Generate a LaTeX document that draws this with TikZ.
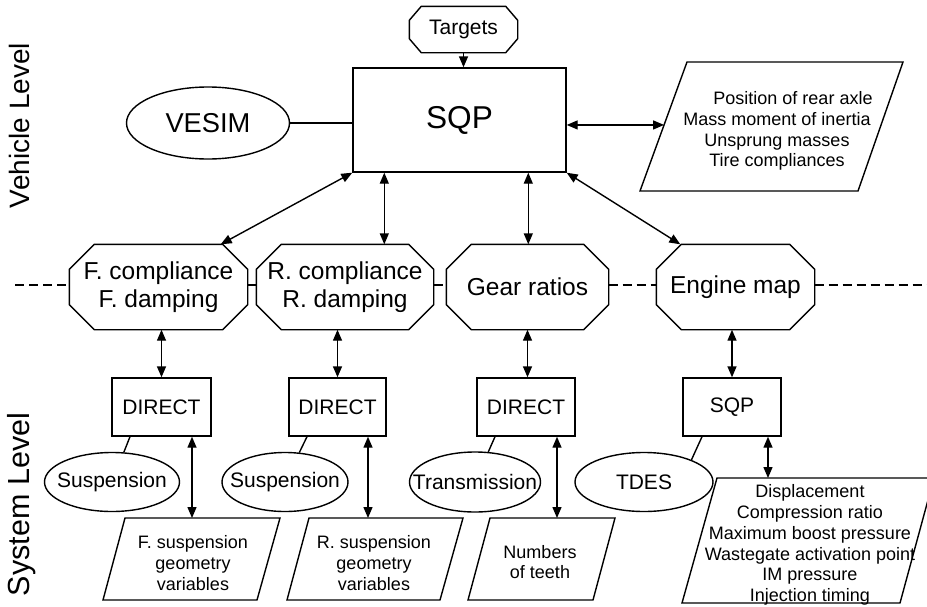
\documentclass[tikz,border=0pt]{standalone}
\usepackage{fontspec}
\setmainfont{Liberation Sans}
\usetikzlibrary{arrows.meta,shapes.geometric,calc}
\newcommand\octo[3]{%
  \draw ([xshift=#2]#1.north west) -- ([xshift=-#2]#1.north east) -- ([yshift=-#3]#1.north east)
   -- ([yshift=#3]#1.south east) -- ([xshift=-#2]#1.south east) -- ([xshift=#2]#1.south west)
   -- ([yshift=#3]#1.south west) -- ([yshift=-#3]#1.north west) -- cycle;}
\begin{document}
\begin{tikzpicture}[x=1pt,y=-1pt,line width=1.4pt,
  >={Triangle[length=11pt,width=9pt]},
  box/.style={draw, rectangle, inner sep=0pt},
  ell/.style={draw, ellipse, inner xsep=-25pt, inner ysep=-15pt},
  octn/.style={inner sep=0pt, align=center},
  ftxl/.style={font=\fontsize{31.6}{36}\selectfont},
  ftl/.style={font=\fontsize{27.3}{32}\selectfont},
  fto/.style={font=\fontsize{24.5}{28}\selectfont},
  ftm/.style={font=\fontsize{21}{24}\selectfont},
  fts/.style={font=\fontsize{18}{20.7}\selectfont},
  sep/.style={line width=1.1pt, dash pattern=on 9pt off 5pt}]
\useasboundingbox (0,0) rectangle (927,606);

% level labels
\node[rotate=90, anchor=base, font=\fontsize{28}{32}\selectfont] (vl) at (30,125.5) {Vehicle Level};
\node[rotate=90, anchor=base, font=\fontsize{30.5}{34}\selectfont] (sl) at (30,504.5) {System Level};

% vehicle level
\node[box, ftxl, minimum width=213pt, minimum height=104pt] (sqp) at (459.5,120) {SQP};
\node[octn, ftm, minimum width=107pt, minimum height=45pt] (tgt) at (463.5,29.5) {Targets};
\octo{tgt}{12pt}{14pt}
\node[ell, ftl, minimum width=163pt, minimum height=72pt] (vesim) at (208,123) {VESIM};

\coordinate (pv1) at (687,62);
\coordinate (pv2) at (903,62);
\coordinate (pv3) at (858,191);
\coordinate (pv4) at (640,191);
\draw (pv1) -- (pv2) -- (pv3) -- (pv4) -- cycle;
\node[fts, align=center] (pvt) at (777,131) {\hspace*{32pt}Position of rear axle\\Mass moment of inertia\\Unsprung masses\\Tire compliances};
\coordinate (pvL) at ($(pv1)!0.488!(pv4)$);

% octagons
\node[octn, fto, minimum width=177pt, minimum height=84pt] (foct) at (158.5,287) {F. compliance\\F. damping};
\node[octn, fto, minimum width=176pt, minimum height=84pt] (roct) at (345,287) {R. compliance\\R. damping};
\node[octn, fto, minimum width=161pt, minimum height=84pt] (goct) at (527.5,287) {Gear ratios};
\node[octn, fto, minimum width=157pt, minimum height=84pt] (eoct) at (735.5,287) {Engine map};
\octo{foct}{25pt}{25pt}
\octo{roct}{25pt}{25pt}
\octo{goct}{25pt}{25pt}
\octo{eoct}{25pt}{25pt}

% separator
\coordinate (dl) at (15,285);
\coordinate (dr) at (927,285);
\draw[sep] (dl) -- (dl -| foct.west);
\draw[sep] (foct.east |- dl) -- (roct.west |- dl);
\draw[sep] (roct.east |- dl) -- (goct.west |- dl);
\draw[sep] (goct.east |- dl) -- (eoct.west |- dl);
\draw[sep] (eoct.east |- dl) -- (dr);

% system level boxes
\node[box, ftm, minimum width=99pt, minimum height=58pt] (d1) at (161.5,407) {DIRECT};
\node[box, ftm, minimum width=97pt, minimum height=58pt] (d2) at (337.5,407) {DIRECT};
\node[box, ftm, minimum width=98pt, minimum height=58pt] (d3) at (526,407) {DIRECT};
\node[box, ftm, minimum width=98pt, minimum height=58pt] (d4) at (732,407) {SQP};

\node[ell, ftm, minimum width=135pt, minimum height=59pt] (e1) at (112,482) {Suspension};
\node[ell, ftm, minimum width=126pt, minimum height=59pt] (e2) at (285,482) {Suspension};
\node[ell, ftm, minimum width=131pt, minimum height=60pt] (e3) at (475,482) {Transmission};
\node[ell, ftm, minimum width=138pt, minimum height=59pt] (e4) at (644,482) {TDES};

% system level parallelograms
\coordinate (f1) at (125,518); \coordinate (f2) at (280,518);
\coordinate (f3) at (257,600); \coordinate (f4) at (103,600);
\draw (f1) -- (f2) -- (f3) -- (f4) -- cycle;
\node[fts, align=center] (fsv) at (193,563) {F. suspension\\geometry\\variables};

\coordinate (r1) at (309,518); \coordinate (r2) at (463,518);
\coordinate (r3) at (440,600); \coordinate (r4) at (287,600);
\draw (r1) -- (r2) -- (r3) -- (r4) -- cycle;
\node[fts, align=center] (rsv) at (374,563) {R. suspension\\geometry\\variables};

\coordinate (n1) at (490,518); \coordinate (n2) at (615,518);
\coordinate (n3) at (593,600); \coordinate (n4) at (468,600);
\draw (n1) -- (n2) -- (n3) -- (n4) -- cycle;
\node[fts, align=center] (nt) at (540,562) {Numbers\\of teeth};

\coordinate (m1) at (717,478); \coordinate (m2) at (934,478);
\coordinate (m3) at (900,603); \coordinate (m4) at (682,603);
\draw (m1) -- (m2) -- (m3) -- (m4) -- cycle;
\node[fts, align=center] (mt) at (810,545) {Displacement\\Compression ratio\\Maximum boost pressure\\Wastegate activation point\\IM pressure\\Injection timing};

% connectors vehicle level
\draw[->] (tgt.south) -- (tgt.south |- sqp.north);
\draw (vesim) -- (sqp.west |- vesim);
\draw[<->] (sqp.east |- pvL) -- (pvL);
\coordinate (s2) at ([xshift=32pt]sqp.south west);
\coordinate (s3) at ([xshift=176pt]sqp.south west);
\draw[<->] (sqp.south west) -- ([xshift=-27pt]foct.north east);
\draw[<->] (s2) -- (s2 |- roct.north);
\draw[<->] (s3) -- (s3 |- goct.north);
\draw[<->] (sqp.south east) -- ([xshift=24pt]eoct.north west);

% octagons to boxes
\draw[<->] (d1.north |- foct.south) -- (d1.north);
\draw[<->] (d2.north |- roct.south) -- (d2.north);
\draw[<->] (goct.south) -- (goct.south |- d3.north);
\draw[<->] (d4.north |- eoct.south) -- (d4.north);

% boxes to ellipses
\coordinate (c1) at ([xshift=-31.5pt]d1.south);
\coordinate (c2) at ([xshift=-30.5pt]d2.south);
\coordinate (c3) at ([xshift=-31pt]d3.south);
\coordinate (c4) at ([xshift=-30pt]d4.south);
\draw (c1) -- (e1);
\draw (c2) -- (e2);
\draw (c3) -- (e3);
\draw (c4) -- (e4.25);

% boxes to parallelograms
\coordinate (a1) at ([xshift=30.5pt]d1.south);
\coordinate (a2) at ([xshift=30.5pt]d2.south);
\coordinate (a3) at ([xshift=31pt]d3.south);
\coordinate (a4) at ([xshift=36pt]d4.south);
\draw[<->] (a1) -- (a1 |- f1);
\draw[<->] (a2) -- (a2 |- r1);
\draw[<->] (a3) -- (a3 |- n1);
\draw[<->] (a4) -- (a4 |- m1);
\end{tikzpicture}
\end{document}
